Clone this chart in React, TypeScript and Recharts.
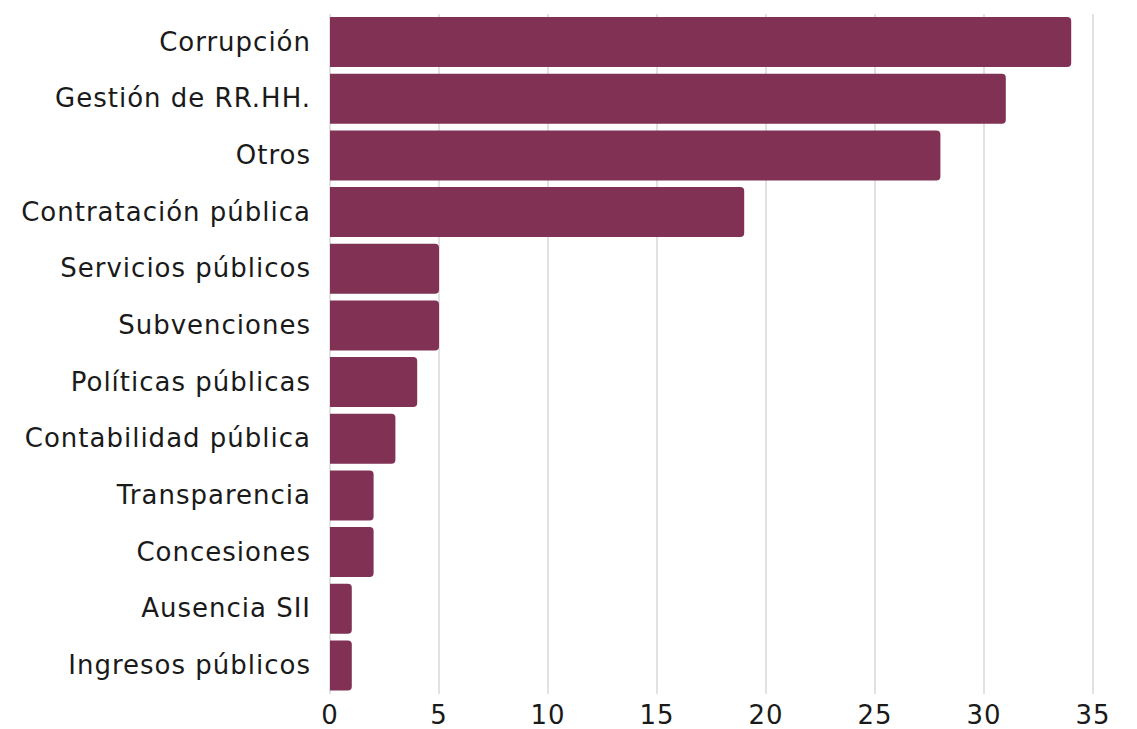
import React from "react";
import { BarChart, Bar, XAxis, YAxis, CartesianGrid } from "recharts";

const categories = [
  "Corrupción",
  "Gestión de RR.HH.",
  "Otros",
  "Contratación pública",
  "Servicios públicos",
  "Subvenciones",
  "Políticas públicas",
  "Contabilidad pública",
  "Transparencia",
  "Concesiones",
  "Ausencia SII",
  "Ingresos públicos",
];
const values = [34, 31, 28, 19, 5, 5, 4, 3, 2, 2, 1, 1];
const xTicks = [0, 5, 10, 15, 20, 25, 30, 35];

const data = categories.map((c, i) => ({ name: c, value: values[i] }));

export default function App() {
  return (
    <div style={{ position: "absolute", left: 0, top: 0, background: "#fff" }}>
      <BarChart
        width={1137}
        height={729}
        data={data}
        layout="vertical"
        margin={{ top: 14, right: 44, bottom: 0, left: 0 }}
        barCategoryGap="5.5%"
      >
        <CartesianGrid horizontal={false} stroke="#c4c4c4" strokeWidth={1} />
        <XAxis
          type="number"
          domain={[0, 35]}
          ticks={xTicks}
          axisLine={false}
          tickLine={false}
          tickSize={0}
          tickMargin={12}
          height={35}
          tick={{ fill: "#1a1a1a", fontSize: 26, fontFamily: "DejaVu Sans", letterSpacing: 1 }}
        />
        <YAxis
          type="category"
          dataKey="name"
          width={330}
          axisLine={false}
          tickLine={false}
          tickSize={17}
          tick={{ fill: "#1a1a1a", fontSize: 26, fontFamily: "DejaVu Sans", letterSpacing: 1, dy: -1 }}
          interval={0}
        />
        <Bar dataKey="value" fill="#803154" radius={[0, 4, 4, 0]} isAnimationActive={false} />
      </BarChart>
    </div>
  );
}
